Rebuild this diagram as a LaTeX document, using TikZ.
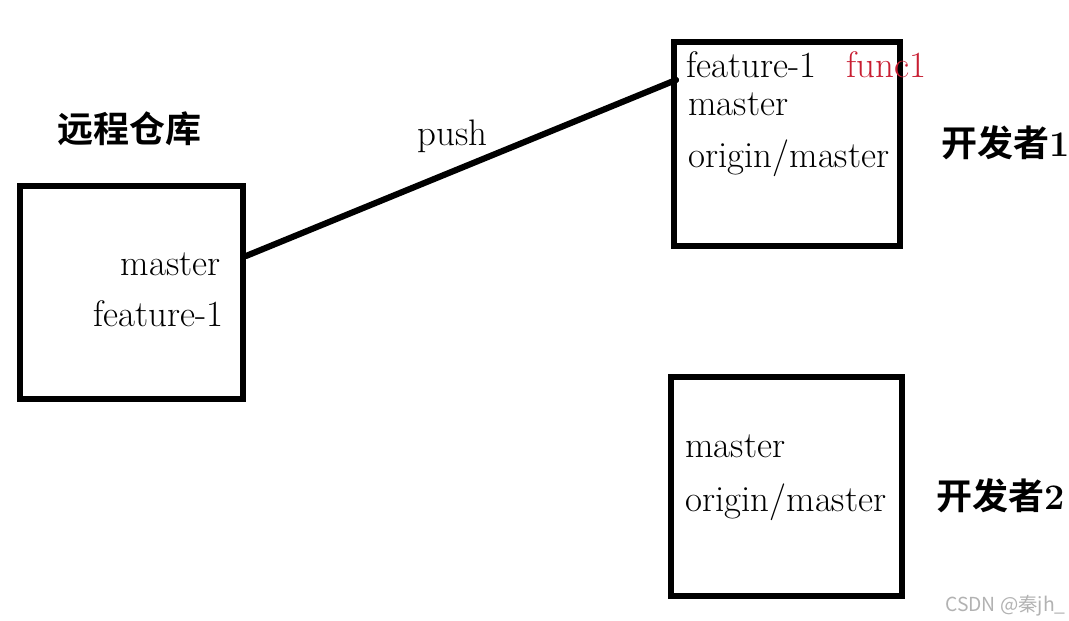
\documentclass[tikz,border=0pt]{standalone}
\usepackage{fontspec}
\usepackage{xcolor}
\newfontfamily\cjk{Noto Sans CJK SC}[BoldFont={* Bold}]
\definecolor{funcred}{RGB}{200,30,50}
\usetikzlibrary{positioning}

\begin{document}
\begin{tikzpicture}[x=0.02cm,y=-0.02cm,
		repobox/.style={draw=black,line width=3.5pt,inner sep=0pt},
		branch/.style={inner sep=0pt,font=\fontsize{21}{25}\selectfont},
		owner/.style={inner sep=0pt,font=\fontsize{20.5}{24}\selectfont\bfseries},
		pushline/.style={line width=3.5pt,line cap=round}]
		
			\useasboundingbox (0,0) rectangle (1069,621);
			
			\node[repobox,minimum width=4.46cm,minimum height=4.26cm] (remote) at (131.5,292.5) {};
			\node[repobox,minimum width=4.52cm,minimum height=4.08cm] (devone) at (787,144) {};
			\node[repobox,minimum width=4.62cm,minimum height=4.38cm] (devtwo) at (786.5,486.5) {};
			
			\node[owner,anchor=base west] (remotename) at (57,143) {\cjk 远程仓库};
			\node[owner,anchor=base west] (onename) at (941,157) {{\cjk 开发者}1};
			\node[owner,anchor=base west] (twoname) at (936,510) {{\cjk 开发者}2};
			
			\node[branch,anchor=base east] (rmaster) at (221,276) {master};
			\node[branch,anchor=base east] (rfeature) at (224,327) {feature-1};
			
			\node[branch,anchor=base west] (ofeature) at (686,78) {feature-1};
			\node[branch,anchor=base west,text=funcred] (ofunc) at (846,78) {func1};
			\node[branch,anchor=base west] (omaster) at (688,116) {master};
			\node[branch,anchor=base west] (oorigin) at (688,168) {origin/master};
			
			\node[branch,anchor=base west] (tmaster) at (685,458) {master};
			\node[branch,anchor=base west] (torigin) at (685,512) {origin/master};
			
			\node[branch,anchor=base west] (pushlabel) at (417,146) {push};
			
			\coordinate (pushfrom) at (246,256);
			\coordinate (pushto) at (676,80);
			\draw[pushline] (pushfrom) -- (pushto);
			
			\node[anchor=base east,inner sep=0pt,text=gray!60,font=\cjk\fontsize{11}{13}\selectfont] (mark) at (1066,611) {CSDN @秦jh\_};

		\end{tikzpicture}
\end{document}
